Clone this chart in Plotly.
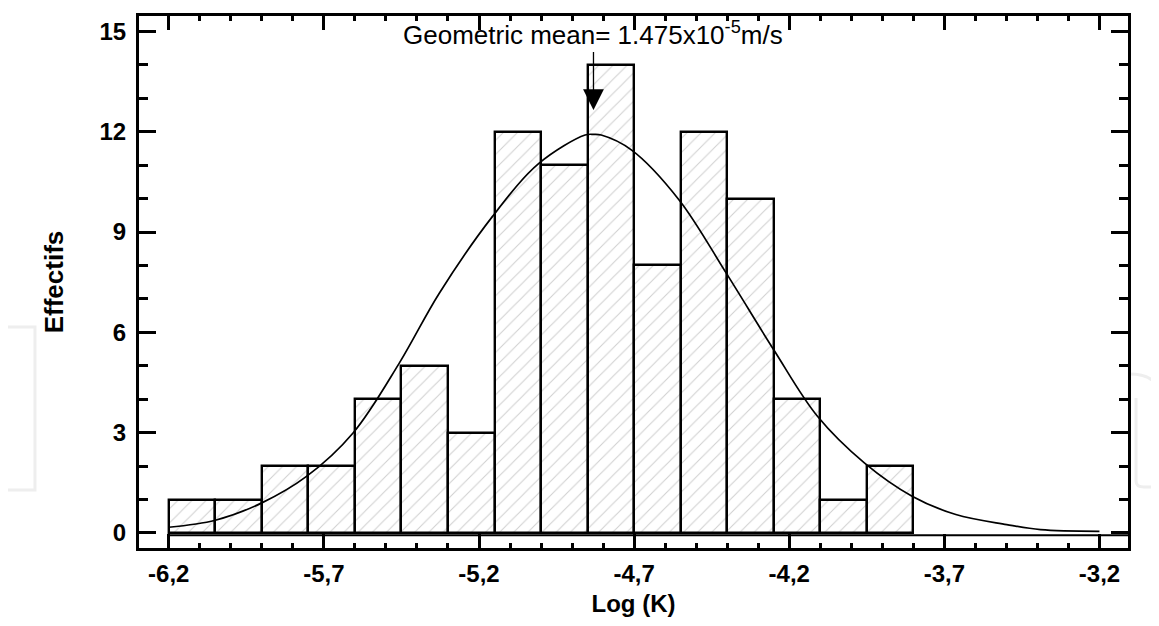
import plotly.graph_objects as go

# histogram of log(K): bin centres (width 0.15) and counts
bin_centres = [-6.125, -5.975, -5.825, -5.675, -5.525, -5.375, -5.225, -5.075,
               -4.925, -4.775, -4.625, -4.475, -4.325, -4.175, -4.025, -3.875]
counts = [1, 1, 2, 2, 4, 5, 3, 12, 11, 14, 8, 12, 10, 4, 1, 2]
bin_width = 0.15

# fitted normal curve
curve_x = [-6.2, -6.05, -5.9, -5.756, -5.606, -5.457, -5.328, -5.157, -5.007,
           -4.858, -4.83, -4.806, -4.708, -4.555, -4.403, -4.25, -4.109, -3.957,
           -3.804, -3.663, -3.499, -3.39, -3.2]
curve_y = [0.17, 0.38, 0.9, 1.69, 2.99, 5.08, 7.17, 9.46, 11.05,
           11.9, 11.92, 11.9, 11.45, 9.96, 7.77, 5.48, 3.49, 2.09,
           1.1, 0.55, 0.25, 0.1, 0.05]

x_ticks = [-6.2, -5.7, -5.2, -4.7, -4.2, -3.7, -3.2]
x_labels = ["-6,2", "-5,7", "-5,2", "-4,7", "-4,2", "-3,7", "-3,2"]
y_ticks = [0, 3, 6, 9, 12, 15]

geo_mean_log = -4.831   # log10(1.475e-5)
arrow_tip_y = 12.65

tick_font = dict(family="Liberation Sans, Arial", size=24, color="black", weight="bold")

fig = go.Figure()
fig.add_trace(go.Bar(x=bin_centres, y=counts, width=bin_width,
                     marker=dict(color="white", line=dict(color="black", width=2.4),
                                 pattern=dict(shape="/", fgcolor="#a0a0a0", bgcolor="white",
                                              size=10, solidity=0.1)),
                     showlegend=False))
fig.add_trace(go.Scatter(x=curve_x, y=curve_y, mode="lines",
                         line=dict(color="black", width=1.7, shape="spline"),
                         showlegend=False))

fig.add_annotation(x=geo_mean_log, y=arrow_tip_y, xref="x", yref="y",
                   text="Geometric mean= 1.475x10<sup>-5</sup>m/s",
                   font=dict(family="Liberation Sans, Arial", size=26, color="black"),
                   showarrow=True, arrowhead=2, arrowsize=3.2, arrowwidth=1.3,
                   arrowcolor="black", ax=0, ay=-76)

# thin line under the bars
fig.add_shape(type="line", xref="x", yref="y", x0=-6.2, x1=-3.108, y0=-0.07, y1=-0.07,
              line=dict(color="black", width=2))

# faint watermark pieces at the edges
wm = dict(color="#eeeeee", width=3)
fig.add_shape(type="rect", xref="paper", yref="paper", x0=-0.1365, x1=-0.1052,
              y0=0.109, y1=0.4154, line=wm, layer="below")
fig.add_shape(type="path", xref="paper", yref="paper",
              path="M 1.0010,0.3270 Q 1.0303,0.3270 1.0303,0.2890", line=wm, layer="below")
fig.add_shape(type="path", xref="paper", yref="paper",
              path="M 1.0081,0.2820 L 1.0081,0.1260 Q 1.0081,0.1147 1.0162,0.1147 L 1.0370,0.1147",
              line=wm, layer="below")

fig.update_xaxes(range=[-6.296, -3.108], tickvals=x_ticks, ticktext=x_labels,
                 ticks="inside", ticklen=14, tickwidth=2.5, tickcolor="black",
                 minor=dict(dtick=0.1, tick0=-6.2, ticks="inside", ticklen=5, tickwidth=2.5,
                            tickcolor="black"),
                 showline=True, linewidth=3, linecolor="black", mirror="ticks",
                 showgrid=False, zeroline=False, tickfont=tick_font, ticklabelstandoff=2,
                 automargin=False,
                 title=dict(text="Log (K)", font=tick_font, standoff=10))
fig.update_yaxes(range=[-0.45, 15.46], tickvals=y_ticks,
                 ticks="inside", ticklen=17, tickwidth=2.5, tickcolor="black",
                 minor=dict(dtick=1, tick0=0, ticks="inside", ticklen=9, tickwidth=2.5,
                            tickcolor="black"),
                 showline=True, linewidth=3, linecolor="black", mirror="ticks",
                 showgrid=False, zeroline=False, tickfont=tick_font, ticklabelstandoff=5,
                 automargin=False,
                 title=dict(text="Effectifs", font=dict(tick_font, size=26), standoff=29))

# the page body adds an 8 px offset, so margins are trimmed by that much
fig.update_layout(width=1159, height=626, margin=dict(l=131, r=39, t=8, b=86),
                  plot_bgcolor="white", paper_bgcolor="white", bargap=0)

fig.write_html("out.html")
